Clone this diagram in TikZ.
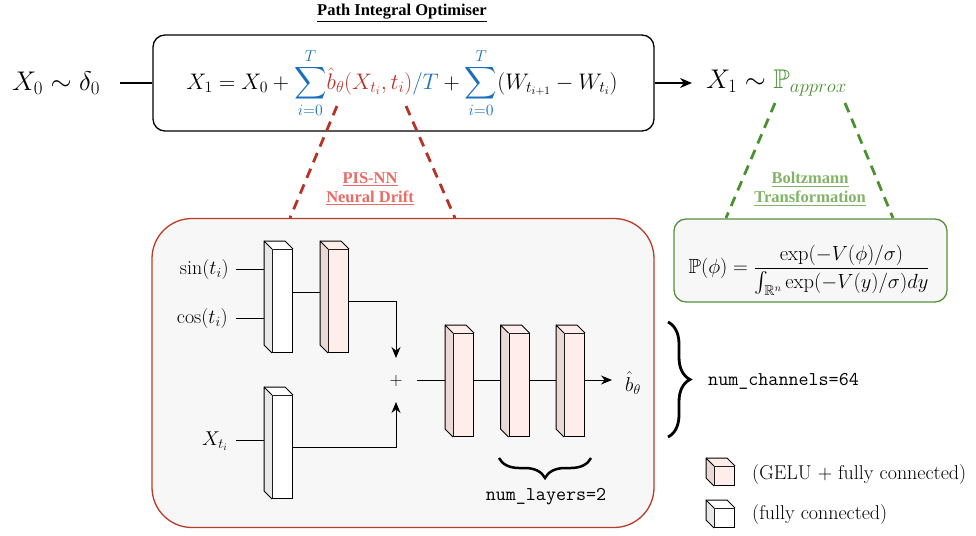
\documentclass[tikz,border=0pt]{standalone}
\usepackage{fix-cm}
\usepackage{amsmath,amssymb}
\usepackage{fontspec}
\usetikzlibrary{arrows.meta,calc,decorations.pathreplacing}
\newfontfamily\timesfont{Liberation Serif}
\definecolor{eqblue}{RGB}{25,110,190}
\definecolor{eqred}{RGB}{185,50,40}
\definecolor{eqgreen}{RGB}{75,145,50}
\definecolor{lblred}{RGB}{234,107,102}
\definecolor{lblgreen}{RGB}{130,179,102}
\definecolor{boxred}{RGB}{185,60,40}
\definecolor{boxgreen}{RGB}{85,145,60}
\definecolor{panel}{RGB}{247,247,247}
\definecolor{pinkfront}{RGB}{255,237,235}
\definecolor{pinkside}{RGB}{234,216,214}
\definecolor{graside}{RGB}{232,232,232}
\newcommand{\myblock}[3]{%
  \fill[#3] (#1.north west) -- ++(-8,-8) -- ($(#1.south west)+(-8,-8)$) -- (#1.south west) -- cycle;
  \fill[#2] (#1.north west) -- ++(-8,-8) -- ($(#1.north east)+(-8,-8)$) -- (#1.north east) -- cycle;
  \draw[line width=1pt,line join=round] (#1.north west) -- ++(-8,-8) -- ($(#1.south west)+(-8,-8)$) -- (#1.south west);
  \draw[line width=1pt,line join=round] ($(#1.north west)+(-8,-8)$) -- ($(#1.north east)+(-8,-8)$) -- (#1.north east);
}
\begin{document}
\begin{tikzpicture}[x=1pt,y=-1pt,
  front/.style={draw,line width=1pt,inner sep=0pt,minimum width=20pt,minimum height=103pt,anchor=north west},
  pinkf/.style={front,fill=pinkfront},
  whitef/.style={front,fill=white},
  conn/.style={line width=1pt},
  arr/.style={line width=1pt,-{Stealth[length=11pt,width=9pt]}},
  lbl/.style={font=\timesfont\bfseries\fontsize{16.5}{20}\selectfont,align=center,inner sep=0pt},
  mathtxt/.style={font=\fontsize{20}{24}\selectfont,inner sep=0pt},
  tt/.style={font=\ttfamily\fontsize{19.5}{22}\selectfont,inner sep=0pt}
]
\useasboundingbox (0,0) rectangle (976,535);

% ---------- top row ----------
\node[lbl,anchor=center] (title) at (402,13) {\underline{Path Integral Optimiser}};
\node[draw,line width=1.3pt,rounded corners=12pt,minimum width=501pt,minimum height=96pt,inner sep=0pt] (pio) at (403.5,83) {};
\node[font=\fontsize{22.5}{26}\selectfont,inner sep=0pt] (eq) at (402,83)
  {$\displaystyle X_1 = X_0 + \textcolor{eqblue}{\sum_{i=0}^{T}} \textcolor{eqred}{\hat{b}_\theta(X_{t_i}, t_i)}\textcolor{eqblue}{/T} + \textcolor{eqblue}{\sum_{i=0}^{T}} (W_{t_{i+1}} - W_{t_i})$};
\node[font=\fontsize{27}{30}\selectfont,inner sep=0pt] (x0) at (56,83) {$X_0 \sim \delta_0$};
\coordinate (x0end) at (120,83);
\draw[line width=1.3pt] (x0end) -- (pio.west);
\node[font=\fontsize{27}{30}\selectfont,inner sep=0pt,anchor=west] (x1) at (706,83) {$X_1 \sim \textcolor{eqgreen}{\mathbb{P}_{approx}}$};
\coordinate (x1tip) at (692,83);
\draw[line width=1.3pt,-{Stealth[length=12pt,width=10pt]}] (pio.east) -- (x1tip);

% ---------- drift panel ----------
\node[draw=boxred,fill=panel,line width=1.3pt,rounded corners=40pt,minimum width=502pt,minimum height=309pt,inner sep=0pt] (nn) at (403,373) {};
\coordinate (rdl1) at (337,106);
\coordinate (rdr1) at (406,106);
\draw[eqred,line width=2.8pt,dash pattern=on 10pt off 7pt] (rdl1) -- (290,218);
\draw[eqred,line width=2.8pt,dash pattern=on 10pt off 7pt] (rdr1) -- (455,218);
\node[lbl,text=lblred] (nnlbl) at (370,189) {\underline{PIS-NN}\\[-1pt]\underline{Neural Drift}};

% ---------- Boltzmann ----------
\node[draw=boxgreen,fill=panel,line width=1.3pt,rounded corners=12pt,minimum width=273pt,minimum height=83pt,inner sep=0pt] (bz) at (810.5,260.5) {};
\node[font=\fontsize{20.5}{24}\selectfont,inner sep=0pt] (bzeq) at (809,270)
  {$\displaystyle \mathbb{P}(\phi) = \frac{\exp(-V(\phi)/\sigma)}{\int_{\mathbb{R}^n}\exp(-V(y)/\sigma) dy}$};
\draw[eqgreen,line width=2.8pt,dash pattern=on 10pt off 7pt] (775,103) -- (726,218);
\draw[eqgreen,line width=2.8pt,dash pattern=on 10pt off 7pt] (845,103) -- (893,218);
\node[lbl,text=lblgreen] (bzlbl) at (810,189) {\underline{Boltzmann}\\[-1pt]\underline{Transformation}};

% ---------- blocks ----------
\node[whitef] (b1) at (272,249) {};
\myblock{b1}{white}{graside}
\node[pinkf] (b2) at (328,249) {};
\myblock{b2}{pinkfront}{pinkside}
\node[whitef] (b3) at (272,395) {};
\myblock{b3}{white}{graside}
\node[pinkf] (b4) at (453,333) {};
\myblock{b4}{pinkfront}{pinkside}
\node[pinkf] (b5) at (508.5,333) {};
\myblock{b5}{pinkfront}{pinkside}
\node[pinkf] (b6) at (564,333) {};
\myblock{b6}{pinkfront}{pinkside}

\coordinate (b1back) at ($(b1.west)+(-8,0)$);
\coordinate (b2back) at ($(b2.west)+(-8,0)$);
\coordinate (b3back) at ($(b3.west)+(-8,0)$);
\coordinate (b4back) at ($(b4.west)+(-8,0)$);
\coordinate (b5back) at ($(b5.west)+(-8,0)$);
\coordinate (b6back) at ($(b6.west)+(-8,0)$);

% inputs
\node[mathtxt,anchor=east] (sin) at (229,269) {$\sin(t_i)$};
\node[mathtxt,anchor=east] (cos) at (228,318) {$\cos(t_i)$};
\node[mathtxt,anchor=east] (xt) at (228,441) {$X_{t_i}$};
\draw[conn] ([xshift=7pt]sin.east) -- (sin.east -| b1back);
\draw[conn] ([xshift=8pt]cos.east) -- (cos.east -| b1back);
\draw[conn] ([xshift=8pt,yshift=1pt]xt.east) -- ([yshift=1pt]xt.east -| b3back);

\coordinate (c12) at (292,292);
\draw[conn] (c12) -- (c12 -| b2back);

\node[font=\fontsize{18}{20}\selectfont,inner sep=0pt] (plus) at (396,381) {$+$};
\coordinate (ptop) at (396,358);
\coordinate (pbot) at (396,402);
\coordinate (p1) at (348,301);
\draw[arr] (p1) -| (ptop);
\coordinate (p3) at (292,447);
\draw[arr] (p3) -| (pbot);

\coordinate (ch) at (417,380);
\draw[conn] (ch) -- (ch -| b4back);
\draw[conn] (b4.east |- ch) -- (ch -| b5back);
\draw[conn] (b5.east |- ch) -- (ch -| b6back);
\node[mathtxt,anchor=center] (bout) at (633,383) {$\hat{b}_\theta$};
\coordinate (bouttip) at (612,380);
\draw[arr] (b6.east |- ch) -- (bouttip);

% braces
\draw[line width=2.5pt,decorate,decoration={brace,amplitude=20pt}] (591,458) -- (499,458) node[midway] (brl) {};
\node[tt,anchor=center] (nl) at (546,497) {num\_layers=2};
\draw[line width=2.8pt,decorate,decoration={brace,amplitude=22pt}] (668,322) -- (668,437) node[midway] (brc) {};
\node[tt,anchor=west] (nc) at (708,381) {num\_channels=64};

% legend
\node[draw,line width=1pt,fill=pinkfront,minimum width=20pt,minimum height=19pt,inner sep=0pt,anchor=north west] (lg1) at (714,466) {};
\myblock{lg1}{pinkfront}{pinkside}
\node[mathtxt,anchor=west] (lt1) at (752,475) {(GELU $+$ fully connected)};
\node[draw,line width=1pt,fill=white,minimum width=20pt,minimum height=19pt,inner sep=0pt,anchor=north west] (lg2) at (714,508) {};
\myblock{lg2}{white}{graside}
\node[mathtxt,anchor=west] (lt2) at (752,515) {(fully connected)};
\end{tikzpicture}
\end{document}
